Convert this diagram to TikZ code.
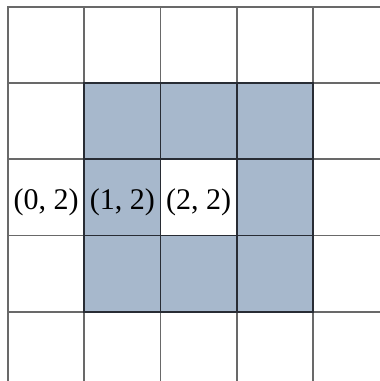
\documentclass[tikz,border=0pt]{standalone}
\usepackage{fontspec}
\setmainfont{Liberation Serif}
\usepackage{tikz}
\usetikzlibrary{positioning}
\definecolor{gridgray}{RGB}{105,105,105}
\definecolor{ringdark}{RGB}{40,44,52}
\definecolor{ringblue}{RGB}{167,184,204}
\tikzset{
  cell/.style={rectangle, draw=gridgray, fill=white, line width=1.8pt,
    minimum size=76.2pt, inner sep=0pt},
  ringcell/.style={cell, draw=ringdark, fill=ringblue},
  lbl/.style={font=\fontsize{30}{30}\selectfont, inner sep=0pt}
}
\begin{document}
\begin{tikzpicture}[x=1pt, y=1pt]
  \useasboundingbox (0,0) rectangle (380,381);
  \clip (0,0) rectangle (380,381);
  % plain grid
  \foreach \i in {0,...,4}
    \foreach \j in {0,...,4}
      \node[cell] (c\i\j) at (46.1+76.2*\i, 335.9-76.2*\j) {};
  % ring round the centre cell
  \foreach \i/\j in {1/1, 2/1, 3/1, 1/2, 3/2, 1/3, 2/3, 3/3}
    \node[ringcell] (r\i\j) at (c\i\j) {};
  % coordinates in the middle row
  \node[lbl] (l02) at ([yshift=-5pt]c02) {(0, 2)};
  \node[lbl] (l12) at ([yshift=-5pt]r12) {(1, 2)};
  \node[lbl] (l22) at ([yshift=-5pt]c22) {(2, 2)};
\end{tikzpicture}
\end{document}
